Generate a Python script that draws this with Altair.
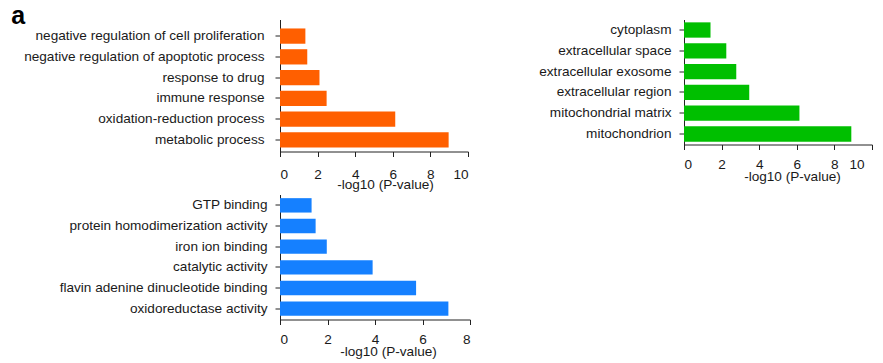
import altair as alt
import pandas as pd

# ---- data ----
bp_terms = ["negative regulation of cell proliferation",
            "negative regulation of apoptotic process",
            "response to drug",
            "immune response",
            "oxidation-reduction process",
            "metabolic process"]
bp_values = [1.35, 1.45, 2.1, 2.48, 6.13, 8.97]

cc_terms = ["cytoplasm",
            "extracellular space",
            "extracellular exosome",
            "extracellular region",
            "mitochondrial matrix",
            "mitochondrion"]
cc_values = [1.41, 2.25, 2.78, 3.47, 6.14, 8.9]

mf_terms = ["GTP binding",
            "protein homodimerization activity",
            "iron ion binding",
            "catalytic activity",
            "flavin adenine dinucleotide binding",
            "oxidoreductase activity"]
mf_values = [1.33, 1.5, 1.97, 3.9, 5.73, 7.09]

bp_ticks = [0, 2, 4, 6, 8, 10]
cc_ticks = [0, 2, 4, 6, 8, 10]
mf_ticks = [0, 2, 4, 6, 8]

FONT = "Liberation Sans"
TXT = "#1a1a1a"
LINE = "#222222"
XTITLE = "-log10 (P-value)"


def panel(terms, values, ticks, color, width, height, yscale,
          ylabpad, xlabpad, title_x, title_y, title=None, label_offset=0):
    df = pd.DataFrame({"term": terms, "value": values})
    props = dict(width=width, height=height)
    if title is not None:
        props["title"] = title
    return alt.Chart(df).mark_bar(color=color).encode(
        x=alt.X("value:Q",
                scale=alt.Scale(domain=[ticks[0], ticks[-1]], nice=False),
                axis=alt.Axis(values=ticks, title=XTITLE, grid=False,
                              tickSize=5, labelPadding=xlabpad,
                              labelOffset=label_offset,
                              titleX=title_x, titleY=title_y,
                              titleBaseline="middle", titleAlign="center")),
        y=alt.Y("term:N", sort=terms, title=None,
                scale=yscale,
                axis=alt.Axis(labelLimit=400, tickSize=5,
                              labelPadding=ylabpad, grid=False)),
    ).properties(**props)


panel_a = alt.TitleParams(text="a", anchor="start", frame="bounds",
                          fontSize=25, fontWeight="bold", font=FONT,
                          color="#000000", baseline="alphabetic",
                          offset=0, dx=-12.5, dy=29.1)

orange = panel(bp_terms, bp_values, bp_ticks, "#FF5F00", 188, 132,
               alt.Scale(paddingInner=0.264, paddingOuter=0.313, align=0.69),
               11, 11, 105, 33.4, title=panel_a)
green = panel(cc_terms, cc_values, cc_ticks, "#00BF00", 188, 125,
              alt.Scale(paddingInner=0.264, paddingOuter=0.137),
              8, 8, 108, 32,
              label_offset={"condition": {"test": "datum.value == 10",
                                          "value": -8}, "value": 0})
blue = panel(mf_terms, mf_values, mf_ticks, "#1580FF", 190, 125,
             alt.Scale(paddingInner=0.303, paddingOuter=0.177),
             8, 8, 108, 31.5)

chart = alt.concat(orange, green, blue, columns=2,
                   spacing={"row": 43, "column": 214},
                   bounds="flush").properties(
    padding={"left": 3, "top": -4.5, "right": 0, "bottom": 3}
).configure_axis(
    labelFont=FONT, titleFont=FONT, labelFontSize=13.6, titleFontSize=13.6,
    labelColor=TXT, titleColor=TXT, titleFontWeight="normal",
    domainColor=LINE, tickColor=LINE, domainWidth=1, tickWidth=1
).configure_view(strokeWidth=0)

chart.save("out.html", embed_options={"renderer": "svg", "actions": False})
